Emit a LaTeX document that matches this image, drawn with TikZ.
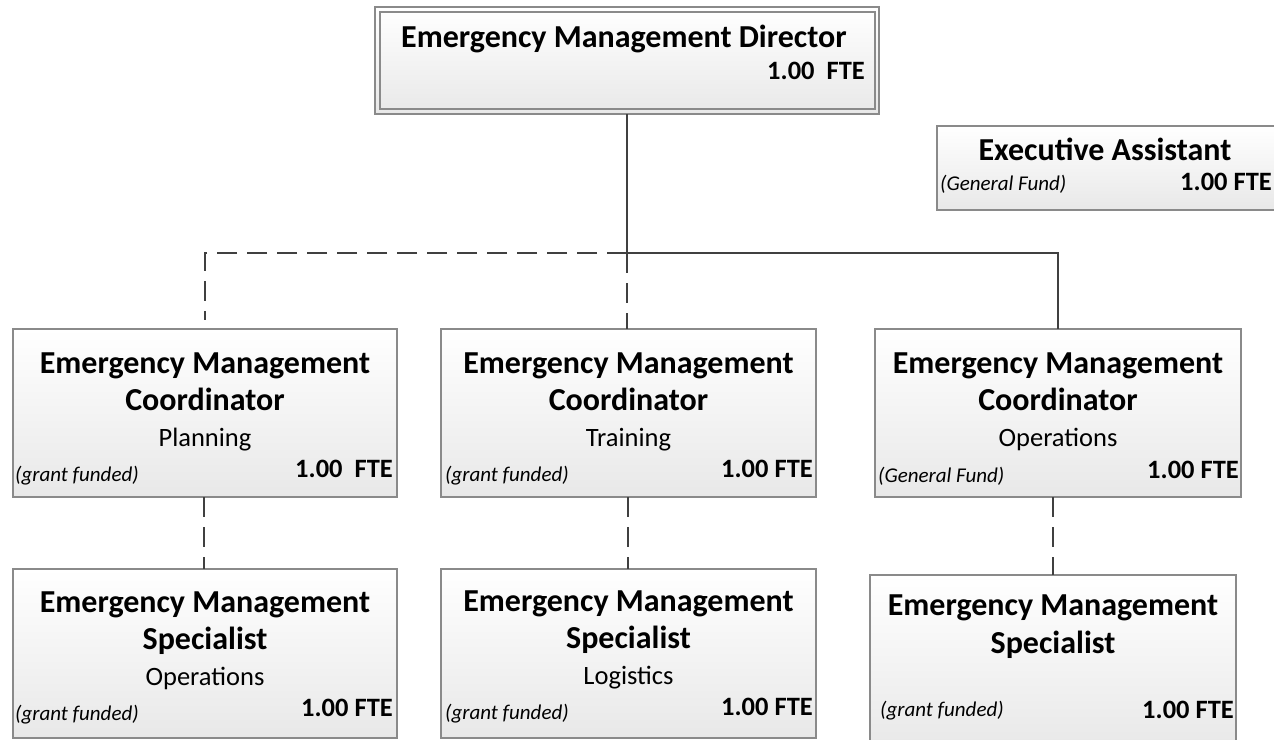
\documentclass[tikz,border=0pt]{standalone}
\usepackage{fontspec}
\setmainfont{Carlito}
\definecolor{bordergray}{HTML}{8A8A8A}
\definecolor{linegray}{HTML}{404040}
\begin{document}
\begin{tikzpicture}[x=1pt,y=-1pt,
  box/.style={draw=bordergray, line width=1.4pt, top color=white, bottom color=black!9,
    inner sep=0pt, outer sep=0pt, anchor=north west},
  ttl/.style={font=\fontsize{32}{38}\selectfont\bfseries, inner sep=0pt, anchor=base},
  sub/.style={font=\fontsize{26.5}{31}\selectfont, inner sep=0pt, anchor=base},
  fte/.style={font=\fontsize{26.5}{31}\selectfont\bfseries, inner sep=0pt, anchor=base east},
  fund/.style={font=\fontsize{21}{25}\selectfont\itshape, inner sep=0pt, anchor=base west},
  conn/.style={draw=linegray, line width=2.8pt},
  dconn/.style={draw=linegray, line width=2.8pt, dash pattern=on 20pt off 10pt}]
\useasboundingbox (0,0) rectangle (1274,739);

% Director (double border)
\node[box, minimum width=504pt, minimum height=107pt] (dir) at (375,7) {};
\draw[draw=bordergray, line width=1.2pt] (380,12) rectangle (875,109);
\node[ttl] (dirt) at (624,47) {Emergency Management Director};
\node[fte] (dirf) at (865,79) {1.00\ \ FTE};

% Executive Assistant
\node[box, minimum width=340pt, minimum height=84pt] (ea) at (937,126) {};
\node[ttl] (eat) at (1105,160) {Executive Assistant};
\node[fund] (eaf) at (940,190) {(General Fund)};
\node[fte] (eafte) at (1272,190) {1.00 FTE};

% Coordinators
\node[box, minimum width=384pt, minimum height=168pt] (c1) at (13,329) {};
\node[box, minimum width=375pt, minimum height=168pt] (c2) at (441,329) {};
\node[box, minimum width=366pt, minimum height=168pt] (c3) at (875,329) {};

\node[ttl] (c1a) at (205,373) {Emergency Management};
\node[ttl] (c1b) at (205,410) {Coordinator};
\node[sub] (c1c) at (205,446) {Planning};
\node[fund] (c1d) at (15,481) {(grant funded)};
\node[fte] (c1e) at (393,477) {1.00\ \ FTE};

\node[ttl] (c2a) at (628.5,373) {Emergency Management};
\node[ttl] (c2b) at (628.5,410) {Coordinator};
\node[sub] (c2c) at (628.5,446) {Training};
\node[fund] (c2d) at (445,481) {(grant funded)};
\node[fte] (c2e) at (813,477) {1.00 FTE};

\node[ttl] (c3a) at (1058,373) {Emergency Management};
\node[ttl] (c3b) at (1058,410) {Coordinator};
\node[sub] (c3c) at (1058,446) {Operations};
\node[fund] (c3d) at (878,482) {(General Fund)};
\node[fte] (c3e) at (1239,478) {1.00 FTE};

% Specialists
\node[box, minimum width=384pt, minimum height=169pt] (s1) at (13,569) {};
\node[box, minimum width=375pt, minimum height=169pt] (s2) at (441,569) {};
\node[box, minimum width=366pt, minimum height=175pt] (s3) at (870,575) {};

\node[ttl] (s1a) at (205,612) {Emergency Management};
\node[ttl] (s1b) at (205,649) {Specialist};
\node[sub] (s1c) at (205,685) {Operations};
\node[fund] (s1d) at (15,720) {(grant funded)};
\node[fte] (s1e) at (393,716) {1.00 FTE};

\node[ttl] (s2a) at (628.5,611) {Emergency Management};
\node[ttl] (s2b) at (628.5,648) {Specialist};
\node[sub] (s2c) at (628.5,684) {Logistics};
\node[fund] (s2d) at (445,719) {(grant funded)};
\node[fte] (s2e) at (813,715) {1.00 FTE};

\node[ttl] (s3a) at (1053,615) {Emergency Management};
\node[ttl] (s3b) at (1053,653) {Specialist};
\node[fund] (s3d) at (880,716) {(grant funded)};
\node[fte] (s3e) at (1234,718) {1.00 FTE};

% Connectors
\coordinate (j) at (627,253);
\coordinate (jl) at (205,253);
\coordinate (jr) at (1058,253);
\coordinate (l1) at (205,320);
\draw[conn] (dir.south -| j) -- (j);
\draw[conn] (j) -- (jr) -- (c3.north -| jr);
\draw[dconn] (j) -- (jl) -- (l1);
\draw[dconn] (j) -- (c2.north -| j);
\draw[dconn] (c1.south -| 204,0) -- (s1.north -| 204,0);
\draw[dconn] (c2.south -| 628,0) -- (s2.north -| 628,0);
\draw[dconn] (c3.south -| 1053,0) -- (s3.north -| 1053,0);
\end{tikzpicture}
\end{document}
